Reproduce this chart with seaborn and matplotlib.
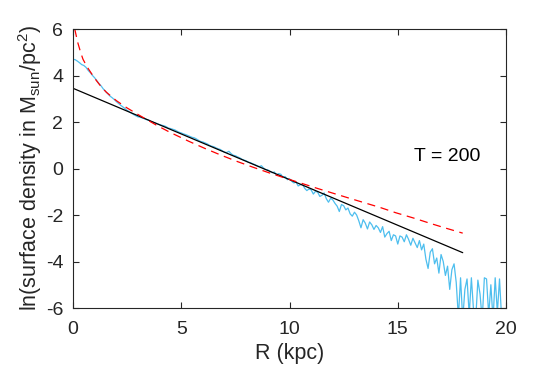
import numpy as np
import pandas as pd
import matplotlib
matplotlib.use("Agg")
import matplotlib.pyplot as plt
import seaborn as sns

# ---------------- data ----------------
blue_step = 0.1  # kpc spacing of the measured profile
blue_vals = [
    # 0.0 - 3.0
    4.70, 4.68, 4.62, 4.55, 4.47, 4.43, 4.35, 4.22, 4.12, 4.00,
    3.90, 3.78, 3.65, 3.55, 3.42, 3.32, 3.22, 3.12, 3.05, 2.97,
    2.88, 2.80, 2.72, 2.65, 2.58, 2.50, 2.44, 2.38, 2.32, 2.27, 2.22,
    # 3.1 - 10.0
    2.21, 2.17, 2.14, 2.10, 2.08, 2.02, 1.99, 1.96, 1.92, 1.89,
    1.86, 1.84, 1.80, 1.74, 1.72, 1.69, 1.66, 1.61, 1.56, 1.53,
    1.49, 1.46, 1.42, 1.38, 1.34, 1.32, 1.27, 1.21, 1.16, 1.14,
    1.10, 1.06, 1.00, 0.96, 0.94, 0.89, 0.85, 0.82, 0.76, 0.70,
    0.69, 0.74, 0.64, 0.57, 0.55, 0.50, 0.46, 0.40, 0.36, 0.33,
    0.27, 0.25, 0.20, 0.17, 0.12, 0.08, 0.12, 0.02, -0.05, -0.06,
    -0.12, -0.18, -0.15, -0.28, -0.22, -0.25, -0.38, -0.35, -0.48, -0.44,
    # 10.1 - 19.8
    -0.55, -0.62, -0.58, -0.75, -0.70, -0.68, -0.85, -0.95, -0.88, -0.92,
    -1.10, -0.98, -1.02, -1.20, -1.15, -1.05, -1.30, -1.45, -1.28, -1.35,
    -1.50, -1.62, -1.85, -1.55, -1.60, -1.78, -1.70, -1.95, -2.05, -1.88,
    -2.00, -2.25, -2.55, -2.20, -2.35, -2.60, -2.30, -2.42, -2.62, -2.45,
    -2.55, -2.75, -2.50, -2.95, -2.80, -2.70, -3.10, -2.85, -2.90, -3.25,
    -2.90, -2.95, -3.15, -2.85, -3.05, -3.30, -3.00, -3.20, -3.40, -3.10,
    -3.50, -3.25, -3.90, -4.30, -3.60, -3.45, -4.10, -3.85, -4.50, -3.70,
    -4.00, -4.60, -4.20, -5.20, -4.35, -4.10, -4.90, -6.40,
    -4.70, -6.50, -5.20, -4.75, -6.30, -4.70, -6.10, -6.50, -4.80, -5.40,
    -6.50, -4.70, -4.75, -6.30, -5.00, -6.50, -4.70, -6.20, -4.75, -6.50,
]
blue_r = np.round(np.arange(len(blue_vals)) * blue_step, 2)

fit_r = [0.0, 18.0]
fit_vals = [3.45, -3.62]

model_r = [0.08, 0.15, 0.23, 0.35, 0.46, 0.65, 0.85, 1.08, 1.3, 1.54, 2.0, 2.47,
           3.08, 3.86, 4.47, 5.35, 6.1, 6.82, 7.56, 8.3, 9.07, 9.79, 10.5, 11.3,
           12.0, 12.7, 13.45, 14.2, 14.9, 15.8, 16.5, 17.2, 18.0]
model_vals = [6.0, 5.7, 5.38, 5.0, 4.70, 4.37, 4.09, 3.78, 3.52, 3.28, 2.92, 2.62,
              2.28, 1.86, 1.56, 1.17, 0.86, 0.58, 0.31, 0.06, -0.19, -0.41, -0.62, -0.86,
              -1.06, -1.26, -1.47, -1.68, -1.90, -2.15, -2.36, -2.56, -2.78]

x_ticks = [0, 5, 10, 15, 20]
y_ticks = [-6, -4, -2, 0, 2, 4, 6]
label_text = "T = 200"

# ---------------- style ----------------
sns.set_theme(style="ticks")
plt.rcParams["font.family"] = ["Liberation Sans", "DejaVu Sans"]
plt.rcParams["mathtext.fontset"] = "custom"
plt.rcParams["mathtext.rm"] = "Liberation Sans"
plt.rcParams["mathtext.default"] = "regular"

dark = "#262626"
fig = plt.figure(figsize=(5.6, 3.71), dpi=100)
ax = fig.add_axes([0.1304, 0.1698, 0.7732, 0.752])

df_blue = pd.DataFrame({"R": blue_r, "v": blue_vals})
df_fit = pd.DataFrame({"R": fit_r, "v": fit_vals})
df_model = pd.DataFrame({"R": model_r, "v": model_vals})

sns.lineplot(data=df_blue, x="R", y="v", ax=ax, color="#4DBEEE", lw=0.9,
             sort=False, estimator=None)
sns.lineplot(data=df_fit, x="R", y="v", ax=ax, color="black", lw=0.9,
             sort=False, estimator=None)
sns.lineplot(data=df_model, x="R", y="v", ax=ax, color="#FF0000", lw=0.9,
             sort=False, estimator=None, dashes=False)
ax.lines[-1].set_dashes([6.5, 4.5])

ax.set_xlim(0, 20)
ax.set_ylim(-6, 6)
ax.set_xticks(x_ticks)
ax.set_yticks(y_ticks)
ax.set_xticklabels([str(t) for t in x_ticks])
ax.set_yticklabels([str(t) for t in y_ticks])

for s in ax.spines.values():
    s.set_visible(True)
    s.set_color(dark)
    s.set_linewidth(0.8)
ax.tick_params(direction="in", length=4, width=0.8, colors=dark,
               labelsize=14, top=True, right=True)
ax.tick_params(axis="x", pad=9)
ax.tick_params(axis="y", pad=7)

ax.set_xlabel("R (kpc)", fontsize=15.5, color=dark, labelpad=4)
ax.set_ylabel(r"ln(surface density in M$_{sun}$/pc$^{2}$)", fontsize=15.5,
              color=dark, labelpad=1)

ax.text(15.75, 0.5, label_text, fontsize=14, color="black", ha="left", va="center")

fig.savefig("out.png", dpi=100)
